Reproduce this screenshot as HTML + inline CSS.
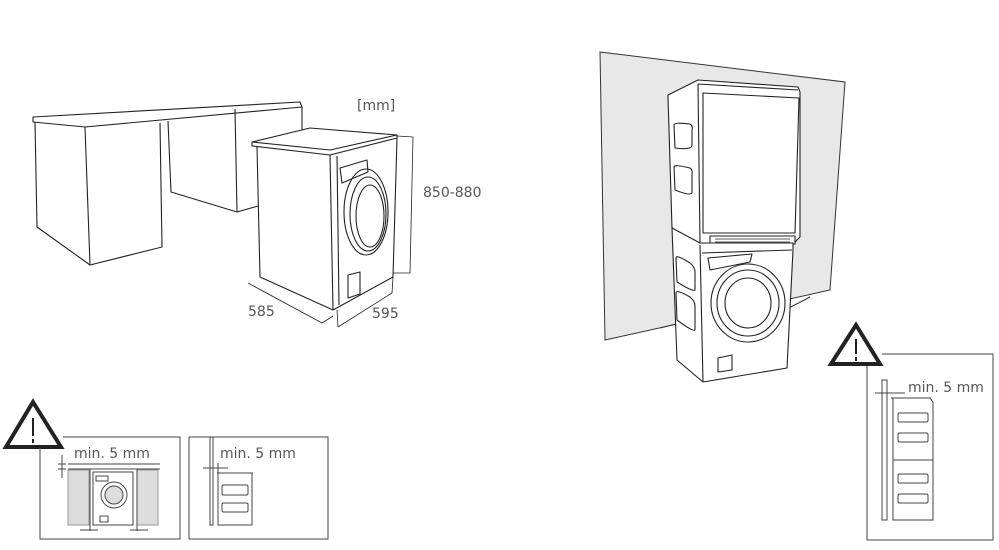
<!DOCTYPE html>
<html><head><meta charset="utf-8"><style>
html,body{margin:0;padding:0;background:#fff;}
svg{display:block;}
text{font-family:"DejaVu Sans","Liberation Sans",sans-serif;fill:#555;}
</style></head><body>
<svg width="999" height="550" viewBox="0 0 999 550" xmlns="http://www.w3.org/2000/svg">
<g fill="none" stroke="#222" stroke-width="1.1" stroke-linejoin="round">
<!-- counter -->
<path d="M33,117 L300,102 L302,107 L85,127 L33,122 Z" fill="#fff"/>
<path d="M35,122 L37,227 L90,265 L162,247 L160,123"/>
<path d="M85,127 L90,265"/>
<path d="M168,121 L171,192 L237,212 L235,109"/>
<path d="M302,107 L302,130"/>
<path d="M237,212 L258,206"/>
<!-- washer -->
<path d="M252,142 L310,128 L397,135 L330,150 Z" fill="#fff"/>
<path d="M252,142 L252,146 L330,155 L397,138 L397,135"/>
<path d="M257,147 L260,277 L333,310 L393,277 L397,138"/>
<path d="M330,155 L333,310"/>
<path d="M337,156 L339,305"/>
<path d="M340,168 L367,160 L368,172 L342,183 Z"/>
<ellipse cx="366" cy="212" rx="22" ry="43"/>
<ellipse cx="368" cy="214" rx="18" ry="37"/>
<ellipse cx="370" cy="216" rx="14" ry="31"/>
<path d="M348,275 L360,272 L360,294 L348,298 Z"/>
<!-- dims -->
<path d="M397,136 L413,137 L410,273 L393,273" stroke-width="0.8"/>
<path d="M248,283 L322,323 L333,316" stroke-width="0.8"/>
<path d="M338,327 L392,293 L393,277" stroke-width="0.8"/>
<path d="M338,327 L337,310" stroke-width="0.8"/>
</g>
<text x="357" y="110" font-size="14">[mm]</text>
<text x="423" y="197" font-size="14">850-880</text>
<text x="248" y="316" font-size="14">585</text>
<text x="372" y="318" font-size="14">595</text>

<!-- right stacked -->
<path d="M600,52 L845,82 L830,290 L605,340 Z" fill="#e8e8e8" stroke="#333" stroke-width="1"/>
<path d="M660,328 L700,318 M785,310 L810,297" stroke="#333" stroke-width="1"/>
<g fill="#fff" stroke="#222" stroke-width="1.1" stroke-linejoin="round">
<path d="M668,95 L698,80 L798,87 L800,92 L800,237 L792,245 L700,245 L672,228 L668,97 Z"/>
<path d="M698,84 L798,90 M698,84 L700,243" fill="none"/>
<path d="M703,93 L799,98 L795,233 L703,233 Z"/>
<path d="M710,236 L795,236 L795,244 L710,244 Z"/>
<path d="M715,239 L790,239 M715,242 L790,242" fill="none" stroke-width="0.8"/>
<path d="M674,125 Q674,122 690,124 Q693,126 692,130 L692,146 Q690,150 675,148 Z"/>
<path d="M674,167 Q674,164 690,168 Q693,170 692,175 L692,193 Q690,196 675,190 Z"/>
<path d="M672,228 L700,243 L793,243 L793,250 L787,368 L703,382 L677,360 Z"/>
<path d="M700,245 L703,382 M702,253 L792,250" fill="none"/>
<path d="M708,258 L752,254 L750,262 L710,270 Z"/>
<ellipse cx="748" cy="303" rx="37" ry="39"/>
<ellipse cx="748" cy="303" rx="31" ry="33"/>
<ellipse cx="748" cy="303" rx="23" ry="25"/>
<path d="M676,258 Q676,254 690,263 Q695,267 695,272 L695,290 Q693,292 677,282 Z"/>
<path d="M676,293 Q676,289 690,297 Q695,301 695,306 L695,330 Q693,332 677,320 Z"/>
<path d="M718,358 L732,355 L732,370 L718,372 Z"/>
</g>

<!-- warning triangles -->
<g fill="#fff" stroke="#222" stroke-width="4" stroke-linejoin="miter">
<path d="M33,402 L61,447 L6,447 Z"/>
<path d="M856,325 L880,364 L831,364 Z"/>
</g>
<path d="M33,418 L33,436 M33,439 L33,443" stroke="#222" stroke-width="2"/>
<path d="M856,339 L856,354 M856,357 L856,361" stroke="#222" stroke-width="2"/>

<!-- box1 -->
<g fill="none" stroke="#444" stroke-width="1">
<path d="M40,448 L40,539 L180,539 L180,437 L63,437"/>
<rect x="68" y="470" width="21" height="55" fill="#ddd" stroke="#999"/>
<rect x="137" y="470" width="21" height="55" fill="#ddd" stroke="#999"/>
<path d="M68,464 L160,464 M68,469 L160,469"/>
<path d="M90,469 L90,531 M137,469 L137,531"/>
<rect x="93" y="472" width="40" height="53" fill="#fff"/>
<rect x="96" y="476" width="12" height="5"/>
<circle cx="114" cy="495" r="13"/>
<circle cx="114" cy="495" r="9" fill="#ddd"/>
<rect x="100" y="516" width="8" height="6"/>
<path d="M62,455 L62,478 M58,464 L66,464 M58,469 L66,469"/>
<path d="M80,530 L98,530 M130,530 L148,530"/>
</g>
<text x="74" y="458" font-size="14">min. 5 mm</text>

<!-- box2 -->
<g fill="none" stroke="#444" stroke-width="1">
<rect x="189" y="437" width="139" height="102"/>
<path d="M210,437 L210,525 L213,525 L213,437"/>
<path d="M218,473 L218,525 L252,525 L252,473 L218,473"/>
<path d="M217,473 L253,473"/>
<rect x="222" y="485" width="26" height="10" rx="1.5"/>
<rect x="222" y="503" width="26" height="9" rx="1.5"/>
<path d="M203,468 L228,468 M218,463 L218,473"/>
</g>
<text x="220" y="458" font-size="14">min. 5 mm</text>

<!-- box3 -->
<g fill="none" stroke="#444" stroke-width="1">
<path d="M882,354 L993,354 L993,540 L867,540 L867,366"/>
<path d="M882,380 L887,380 L887,520 L882,520 Z"/>
<path d="M893,398 L930,398 L933,402 L933,520 L893,520 Z"/>
<path d="M893,460 L933,460 M891,398 L931,398"/>
<rect x="898" y="413" width="30" height="9" rx="1.5"/>
<rect x="898" y="433" width="30" height="9" rx="1.5"/>
<rect x="898" y="474" width="30" height="9" rx="1.5"/>
<rect x="898" y="494" width="30" height="9" rx="1.5"/>
<path d="M875,393 L905,393"/>
</g>
<text x="908" y="392" font-size="14">min. 5 mm</text>
</svg>
</body></html>
